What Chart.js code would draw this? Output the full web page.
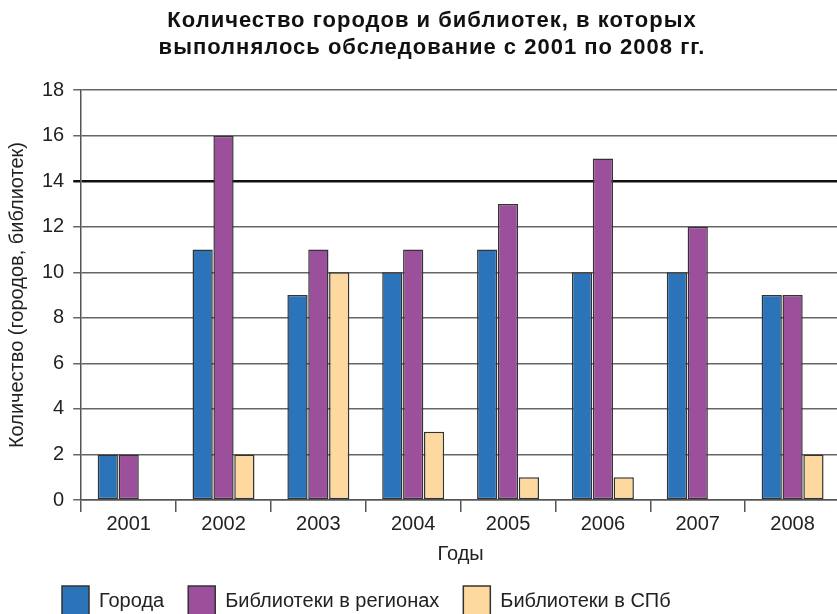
<!DOCTYPE html>
<html>
<head>
<meta charset="utf-8">
<script src="https://cdn.jsdelivr.net/npm/chart.js@4.4.0/dist/chart.umd.min.js"></script>
<style>
  html, body { margin:0; padding:0; background:#fff; overflow:hidden; }
  #wrap { position:relative; width:840px; height:626px; }
</style>
</head>
<body>
<div id="wrap"><canvas id="chart"></canvas></div>
<script>
// годы и значения
const years = ['2001','2002','2003','2004','2005','2006','2007','2008'];
const cities = [2, 11, 9, 10, 11, 10, 10, 9];
const libsRegions = [2, 16, 11, 11, 13, 15, 12, 9];
const libsSpb = [0, 2, 10, 3, 1, 1, 0, 2];

const seriesNames = ['Города', 'Библиотеки в регионах', 'Библиотеки в СПб'];
const seriesColors = ['#2b74b9', '#9c4f9b', '#fdd9a0'];

const FONT = "'Liberation Sans', Arial, sans-serif";
const TXT = '#222';

// сдвиг заголовка и легенды как на оригинале, разрядка заголовка
const shiftPlugin = {
  id: 'shift',
  beforeDraw(chart) {
    const t = chart.titleBlock;
    if (t) {
      t.left = 24; t.right = 840;
      if (!t._wrapped) {
        const orig = t.draw;
        t.draw = function () {
          const c = this.ctx;
          const prev = c.letterSpacing;
          c.letterSpacing = '1px';
          orig.call(this);
          c.letterSpacing = prev || '0px';
        };
        t._wrapped = true;
      }
    }
    if (chart.legend) chart.legend.left = 38;
  }
};

const ctx = document.getElementById('chart').getContext('2d');
new Chart(ctx, {
  type: 'bar',
  data: {
    labels: years,
    datasets: [cities, libsRegions, libsSpb].map((d, i) => ({
      label: seriesNames[i],
      data: d,
      backgroundColor: seriesColors[i],
      borderColor: '#333',
      borderWidth: 1.5,
      borderSkipped: false,
      categoryPercentage: 0.66,
      barPercentage: 0.97
    }))
  },
  options: {
    responsive: true,
    maintainAspectRatio: false,
    animation: false,
    layout: { padding: { top: 7, left: 0, right: 0, bottom: 0 } },
    plugins: {
      title: {
        display: true,
        text: ['Количество городов и библиотек, в которых', 'выполнялось обследование с 2001 по 2008 гг.'],
        color: '#111',
        font: { family: FONT, size: 22, weight: 'bold', lineHeight: 1.23 },
        padding: { top: 0, bottom: 29 }
      },
      legend: {
        position: 'bottom',
        align: 'start',
        labels: {
          color: TXT,
          font: { family: FONT, size: 20 },
          boxWidth: 27,
          boxHeight: 30,
          padding: 24,
          useBorderRadius: false
        }
      },
      tooltip: { enabled: false }
    },
    scales: {
      x: {
        grid: {
          offset: true,
          drawOnChartArea: false,
          drawTicks: true,
          tickLength: 12,
          color: '#555',
          lineWidth: 1.5
        },
        border: { display: true, color: '#555', width: 1.5 },
        ticks: { color: TXT, font: { family: FONT, size: 20 }, padding: 0 },
        title: {
          display: true,
          text: 'Годы',
          color: TXT,
          font: { family: FONT, size: 20 },
          padding: { top: 6, bottom: -4 }
        }
      },
      y: {
        min: 0,
        max: 18,
        ticks: { stepSize: 2, color: TXT, font: { family: FONT, size: 20 }, padding: 9 },
        grid: {
          color: c => (c.tick && c.tick.value === 14) ? '#111' : '#666',
          lineWidth: c => (c.tick && c.tick.value === 14) ? 2.5 : 1.5,
          tickLength: 8
        },
        border: { display: true, color: '#555', width: 1.5 },
        title: {
          display: true,
          text: 'Количество (городов, библиотек)',
          color: TXT,
          font: { family: FONT, size: 20 },
          padding: { top: 5, bottom: 4 }
        }
      }
    }
  },
  plugins: [shiftPlugin]
});
</script>
</body>
</html>
